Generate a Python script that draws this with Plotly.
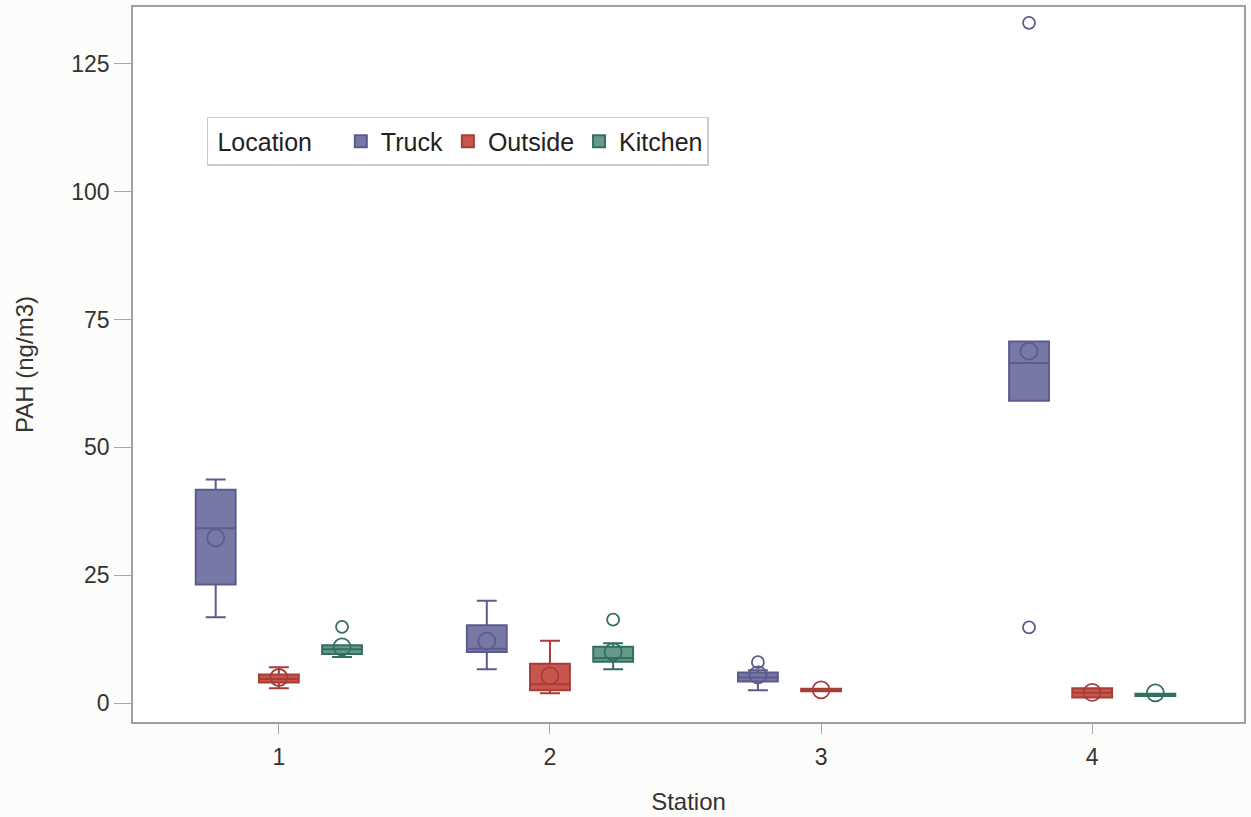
import plotly.graph_objects as go

# PAH concentrations by station and sampling location (summary statistics)
stations = [1, 2, 3, 4]
locations = ["Truck", "Outside", "Kitchen"]

truck_stations = [1, 2, 3, 4]
truck_q1 = [23.2, 10.0, 4.2, 59.1]
truck_median = [34.2, 10.6, 5.0, 66.5]
truck_q3 = [41.7, 15.2, 6.0, 70.7]
truck_low = [16.8, 6.6, 2.5, 59.1]
truck_high = [43.7, 20.0, 6.4, 70.7]
truck_mean = [32.3, 12.1, 5.5, 68.8]
truck_out_station = [3, 4, 4]
truck_out_value = [8.0, 133.0, 14.8]

outside_stations = [1, 2, 3, 4]
outside_q1 = [4.0, 2.5, 2.3, 1.1]
outside_median = [4.7, 3.7, 2.5, 2.0]
outside_q3 = [5.6, 7.7, 2.8, 2.9]
outside_low = [2.9, 1.9, 2.3, 1.1]
outside_high = [7.0, 12.2, 2.8, 2.9]
outside_mean = [5.0, 5.3, 2.6, 2.1]
outside_out_station = []
outside_out_value = []

kitchen_stations = [1, 2, 4]
kitchen_q1 = [9.6, 8.1, 1.4]
kitchen_median = [10.5, 8.8, 1.6]
kitchen_q3 = [11.3, 11.0, 1.8]
kitchen_low = [9.0, 6.6, 1.4]
kitchen_high = [11.3, 11.7, 1.8]
kitchen_mean = [11.0, 10.0, 2.0]
kitchen_out_station = [1, 2]
kitchen_out_value = [14.9, 16.3]

y_ticks = [0, 25, 50, 75, 100, 125]

groups = [
    dict(name="Truck", st=truck_stations, q1=truck_q1, med=truck_median, q3=truck_q3,
         lo=truck_low, hi=truck_high, mean=truck_mean,
         ost=truck_out_station, oval=truck_out_value,
         fill="#7878a6", line="#5b5b8e", offset=-0.233),
    dict(name="Outside", st=outside_stations, q1=outside_q1, med=outside_median, q3=outside_q3,
         lo=outside_low, hi=outside_high, mean=outside_mean,
         ost=outside_out_station, oval=outside_out_value,
         fill="#c8564e", line="#a83d36", offset=0.0),
    dict(name="Kitchen", st=kitchen_stations, q1=kitchen_q1, med=kitchen_median, q3=kitchen_q3,
         lo=kitchen_low, hi=kitchen_high, mean=kitchen_mean,
         ost=kitchen_out_station, oval=kitchen_out_value,
         fill="#66998c", line="#336f60", offset=0.233),
]

fig = go.Figure()
for g in groups:
    xs = [s + g["offset"] for s in g["st"]]
    fig.add_trace(go.Box(
        name=g["name"], x=xs, q1=g["q1"], median=g["med"], q3=g["q3"],
        lowerfence=g["lo"], upperfence=g["hi"],
        width=0.147, whiskerwidth=0.5,
        fillcolor=g["fill"], line=dict(color=g["line"], width=2),
        boxpoints=False, hoverinfo="skip", showlegend=True,
    ))
    fig.add_trace(go.Scatter(
        x=xs, y=g["mean"], mode="markers", showlegend=False,
        marker=dict(symbol="circle-open", size=17, color=g["line"], line=dict(width=1.8)),
    ))
    if g["ost"]:
        fig.add_trace(go.Scatter(
            x=[s + g["offset"] for s in g["ost"]], y=g["oval"], mode="markers",
            showlegend=False,
            marker=dict(symbol="circle-open", size=12, color=g["line"], line=dict(width=1.8)),
        ))

font_family = "Liberation Sans, Arial, sans-serif"

fig.update_layout(
    width=1251, height=817,
    margin=dict(l=133, r=6, t=5, b=95),
    paper_bgcolor="#fcfcfb", plot_bgcolor="#ffffff",
    font=dict(family=font_family, size=23, color="#333333"),
    xaxis=dict(
        range=[0.462, 4.56], tickmode="array", tickvals=stations,
        ticktext=[str(s) for s in stations],
        showgrid=False, zeroline=False, showline=True, linecolor="#a0a0a0",
        linewidth=1.5, mirror=True, ticks="outside", ticklen=10, tickcolor="#a8a8a8",
        ticklabelstandoff=4,
        title=dict(text="Station", font=dict(size=24, color="#333333"), standoff=24),
        tickfont=dict(size=23, color="#333333"),
    ),
    yaxis=dict(
        range=[-3.7, 136.1], tickmode="array", tickvals=y_ticks,
        showgrid=False, zeroline=False, showline=True, linecolor="#a0a0a0",
        linewidth=1.5, mirror=True, ticks="outside", ticklen=17, tickcolor="#a8a8a8",
        title=dict(text="PAH (ng/m3)", font=dict(size=24, color="#333333"), standoff=31),
        tickfont=dict(size=23, color="#333333"),
    ),
    legend=dict(
        orientation="h", x=0.0666, y=0.812, xanchor="left", yanchor="middle",
        bgcolor="#ffffff", bordercolor="#cccccc", borderwidth=1.5,
        title=dict(text=" Location   ", font=dict(size=25, color="#222222")),
        font=dict(size=25, color="#222222"),
        itemwidth=30,
    ),
    showlegend=True,
)

fig.write_html("out.html")
